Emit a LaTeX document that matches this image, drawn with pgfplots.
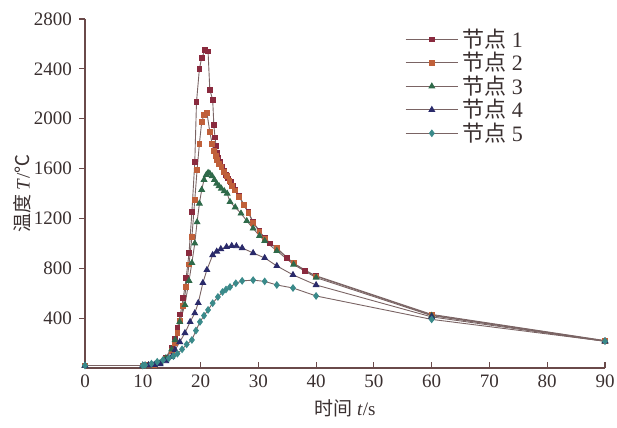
\documentclass[border=0pt]{standalone}
\usepackage{pgfplots}
\pgfplotsset{compat=1.18}
\usepackage{fontspec}
\setmainfont{Liberation Serif}
\newfontfamily\cjk{Noto Sans CJK SC}
\definecolor{txt}{HTML}{3A3030}
\definecolor{axc}{HTML}{6A4A4A}
\definecolor{lnc}{HTML}{7A6464}
\definecolor{cA}{HTML}{8A2A3E}
\definecolor{cB}{HTML}{C0603A}
\definecolor{cC}{HTML}{2F6A4A}
\definecolor{cD}{HTML}{2A2A6A}
\definecolor{cE}{HTML}{3A8A8A}
\begin{document}
\begin{tikzpicture}
\begin{axis}[
  scale only axis, width=260pt, height=174.5pt,
  xmin=0, xmax=90, ymin=0, ymax=2800,
  axis x line=bottom, axis y line=left,
  axis line style={axc, line width=0.6pt, -},
  xtick={0,10,...,90}, ytick={400,800,...,2800},
  x tick style={axc, line width=0.6pt}, y tick style={axc, line width=0.6pt},
  xtick align=inside, ytick align=outside,
  major tick length=3pt,
  tick label style={font=\fontsize{9.5}{10}\selectfont, text=txt},
  /pgf/number format/assume math mode=true,
  /pgf/number format/1000 sep={},
  xlabel={{\cjk 时间} \textit{t}/s},
  ylabel={{\cjk 温度} \textit{T}/{\cjk ℃}},
  label style={font=\fontsize{9.5}{10}\selectfont, text=txt},
  xlabel style={yshift=1pt},
  ylabel style={yshift=-5.5pt},
  legend style={draw=none, fill=none, at={(0.615,0.985)}, anchor=north west,
    font=\fontsize{11}{12}\selectfont, text=txt, row sep=-3pt,
    inner sep=0pt, cells={anchor=west}},
  legend image code/.code={\draw[mark repeat=2,mark phase=2] plot coordinates {(0cm,0cm) (0.46cm,0cm) (0.92cm,0cm)};},
  every axis plot/.append style={line width=0.45pt},
  clip=false,
]
\addplot[lnc, mark=square*, mark size=1.2pt, mark options={fill=cA, draw=cA}] coordinates {
(0,20)(10,20)(11,22)(12,28)(13,45)(14,85)(15,160)(15.5,230)(16,320)(16.5,430)(17,560)(17.5,720)(18,920)(18.5,1250)(19,1650)(19.3,2136)(19.8,2400)(20.2,2490)(20.8,2550)(21.3,2540)(21.6,2232)(22.1,2152)(22.3,1950)(22.5,1850)(22.7,1780)(22.9,1730)(23.1,1690)(23.4,1650)(23.7,1610)(24.0,1580)(24.4,1550)(24.8,1520)(25.2,1490)(25.6,1460)(26.0,1430)(26.7,1380)(27.5,1310)(28.3,1250)(29.1,1170)(30.2,1100)(31.1,1044)(32,1000)(33.2,963)(35,880)(36.1,843)(38,780)(40,740)(60,430)(90,220)};
\addlegendentry{{\cjk 节点} 1}
\addplot[lnc, mark=square*, mark size=1.2pt, mark options={fill=cB, draw=cB}] coordinates {
(0,20)(10,20)(11,22)(12,26)(13,40)(14,75)(15,140)(15.5,200)(16,280)(16.5,380)(17,500)(17.5,650)(18,830)(18.5,1050)(19,1350)(19.4,1590)(19.8,1800)(20.2,1975)(20.6,2030)(21.1,2048)(21.6,1895)(22.0,1800)(22.3,1740)(22.6,1700)(22.9,1670)(23.2,1640)(23.6,1610)(24.0,1575)(24.5,1540)(25,1500)(25.5,1460)(26,1425)(26.7,1375)(27.5,1305)(28.3,1245)(29.1,1165)(30.2,1095)(31.1,1040)(33.2,960)(36.1,840)(40,735)(60,425)(90,218)};
\addlegendentry{{\cjk 节点} 2}
\addplot[lnc, mark=triangle*, mark size=1.6pt, mark options={fill=cC, draw=cC}] coordinates {
(0,20)(10,20)(11,22)(12,26)(13,40)(14,80)(15,150)(15.6,225)(16.4,370)(17.3,506)(18,700)(18.5,843)(19,1000)(19.4,1170)(19.8,1320)(20.2,1430)(20.6,1510)(21,1550)(21.3,1566)(21.6,1560)(22,1540)(22.4,1510)(22.8,1480)(23.2,1460)(23.6,1440)(24.1,1420)(24.6,1400)(25.1,1333)(26,1290)(27,1240)(28,1180)(29.1,1120)(30.2,1060)(31.1,1020)(33.2,940)(36.1,830)(40,725)(60,420)(90,215)};
\addlegendentry{{\cjk 节点} 3}
\addplot[lnc, mark=triangle*, mark size=1.6pt, mark options={fill=cD, draw=cD}] coordinates {
(0,20)(10,20)(11,22)(12,25)(13,32)(14,55)(15,90)(15.6,145)(16.4,209)(17.3,281)(18.2,370)(19,440)(19.6,522)(20.4,683)(21.1,787)(22.1,907)(22.8,935)(23.5,955)(24.5,972)(25.4,980)(26.2,978)(27.2,963)(29.1,923)(31.1,883)(33.2,819)(36,747)(40,666)(60,410)(90,214)};
\addlegendentry{{\cjk 节点} 4}
\addplot[lnc, mark=diamond*, mark size=1.6pt, mark options={fill=cE, draw=cE}] coordinates {
(0,20)(10,20)(10.4,24)(11.5,35)(12.5,50)(13.5,64)(14.5,78)(15.3,95)(16,115)(16.8,150)(17.6,190)(18.5,225)(19.2,300)(19.9,370)(20.6,420)(21.3,466)(22.1,520)(23,570)(23.8,610)(24.4,630)(25.1,650)(26.1,680)(27.2,699)(29.1,705)(31.1,695)(33.2,666)(36,642)(40,578)(60,390)(90,215)};
\addlegendentry{{\cjk 节点} 5}
\end{axis}
\pgfresetboundingbox
\path ([shift={(-42.5pt,-29.5pt)}]current axis.south west) rectangle ([shift={(6pt,9.5pt)}]current axis.north east);
\end{tikzpicture}
\end{document}
